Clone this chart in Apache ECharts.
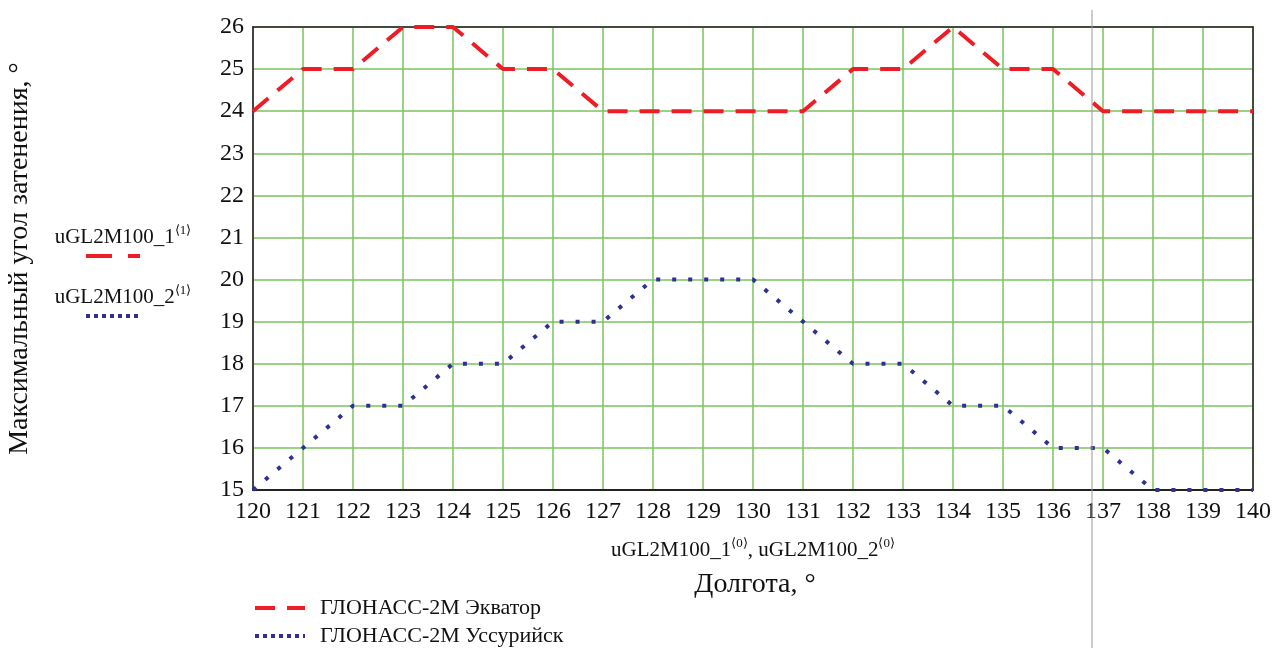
<!DOCTYPE html>
<html><head><meta charset="utf-8">
<script src="https://cdn.jsdelivr.net/npm/echarts@6/dist/echarts.min.js"></script>
<style>html,body{margin:0;padding:0;background:#fff}#c{width:1276px;height:648px}</style>
</head><body><div id="c"></div>
<script>
const longitudes = [120,121,122,123,124,125,126,127,128,129,130,131,132,133,134,135,136,137,138,139,140];
const equatorValues = [24,25,25,26,26,25,25,24,24,24,24,24,25,25,26,25,25,24,24,24,24];
const ussuriyskValues = [15,16,17,17,18,18,19,19,20,20,20,19,18,18,17,17,16,16,15,15,15];
const seriesNames = ['ГЛОНАСС-2М Экватор','ГЛОНАСС-2М Уссурийск'];
const yAxisTitle = 'Максимальный угол затенения, °';
const xAxisTitle = 'Долгота, °';
const xVarLabel = 'uGL2M100_1{s|⟨0⟩}, uGL2M100_2{s|⟨0⟩}';
const yVarLabels = ['uGL2M100_1{s|⟨1⟩}','uGL2M100_2{s|⟨1⟩}'];

const FONT = 'Liberation Serif';
const RED = '#ee1c25', BLUE = '#2e3192', GRID = '#7ac35c';
const RED_DASH = [20,12], BLUE_DOT = [4,12];

const chart = echarts.init(document.getElementById('c'));
const pair = (xs, ys) => xs.map((x,i)=>[x, ys[i]]);
const sup = {s:{fontSize:13,fontFamily:FONT,fill:'#111',padding:[0,0,12,0]}};
const frameAxis = {axisLine:{show:true,lineStyle:{color:'#222',width:1.5}},axisTick:{show:false},axisLabel:{show:false},splitLine:{show:false}};

chart.setOption({
  animation:false,
  textStyle:{fontFamily:FONT},
  grid:{left:253,right:23,top:27,bottom:158,show:false,outerBoundsMode:'none',containLabel:false},
  xAxis:[{type:'value',min:120,max:140,interval:1,
    axisLine:{lineStyle:{color:'#222',width:2}},axisTick:{show:false},
    axisLabel:{color:'#111',fontSize:24,fontFamily:FONT,margin:10},
    splitLine:{lineStyle:{color:GRID,width:1.5}}},
    Object.assign({type:'value',min:120,max:140,interval:1,position:'top'},frameAxis)],
  yAxis:[{type:'value',min:15,max:26,interval:1,
    name:yAxisTitle,nameLocation:'middle',nameGap:219,nameRotate:90,
    nameTextStyle:{fontSize:28,fontFamily:FONT,color:'#111'},
    axisLine:{lineStyle:{color:'#444',width:2}},axisTick:{show:false},
    axisLabel:{color:'#111',fontSize:24,fontFamily:FONT,margin:9},
    splitLine:{lineStyle:{color:GRID,width:1.5}}},
    Object.assign({type:'value',min:15,max:26,interval:1,position:'right'},frameAxis)],
  series:[
    {name:seriesNames[0],type:'line',data:pair(longitudes,equatorValues),symbol:'none',z:5,
      lineStyle:{color:RED,width:4,type:RED_DASH,cap:'butt'},itemStyle:{color:RED}},
    {name:seriesNames[1],type:'line',data:pair(longitudes,ussuriyskValues),symbol:'none',z:5,
      lineStyle:{color:BLUE,width:4,type:BLUE_DOT,cap:'butt'},itemStyle:{color:BLUE}}
  ],
  graphic:[
    {type:'line',shape:{x1:1092,y1:10,x2:1092,y2:648},style:{stroke:'#999',lineWidth:1},z:100},
    {type:'text',x:753,y:550,style:{text:xVarLabel,font:'21px '+FONT,fill:'#111',align:'center',verticalAlign:'middle',rich:sup}},
    {type:'text',x:755,y:585,style:{text:xAxisTitle,font:'28px '+FONT,fill:'#111',align:'center',verticalAlign:'middle'}},
    {type:'text',x:123,y:237,style:{text:yVarLabels[0],font:'21px '+FONT,fill:'#111',align:'center',verticalAlign:'middle',rich:sup}},
    {type:'line',shape:{x1:86,y1:256,x2:140,y2:256},style:{stroke:RED,lineWidth:4,lineDash:[26,16]}},
    {type:'text',x:123,y:297,style:{text:yVarLabels[1],font:'21px '+FONT,fill:'#111',align:'center',verticalAlign:'middle',rich:sup}},
    {type:'line',shape:{x1:86,y1:316,x2:140,y2:316},style:{stroke:BLUE,lineWidth:4,lineDash:[4,4]}},
    {type:'line',shape:{x1:255,y1:608,x2:305,y2:608},style:{stroke:RED,lineWidth:4,lineDash:[20,12]}},
    {type:'text',x:320,y:608,style:{text:seriesNames[0],font:'22px '+FONT,fill:'#111',align:'left',verticalAlign:'middle'}},
    {type:'line',shape:{x1:255,y1:636,x2:305,y2:636},style:{stroke:BLUE,lineWidth:4,lineDash:[4,4]}},
    {type:'text',x:320,y:636,style:{text:seriesNames[1],font:'22px '+FONT,fill:'#111',align:'left',verticalAlign:'middle'}}
  ]
});
</script></body></html>
